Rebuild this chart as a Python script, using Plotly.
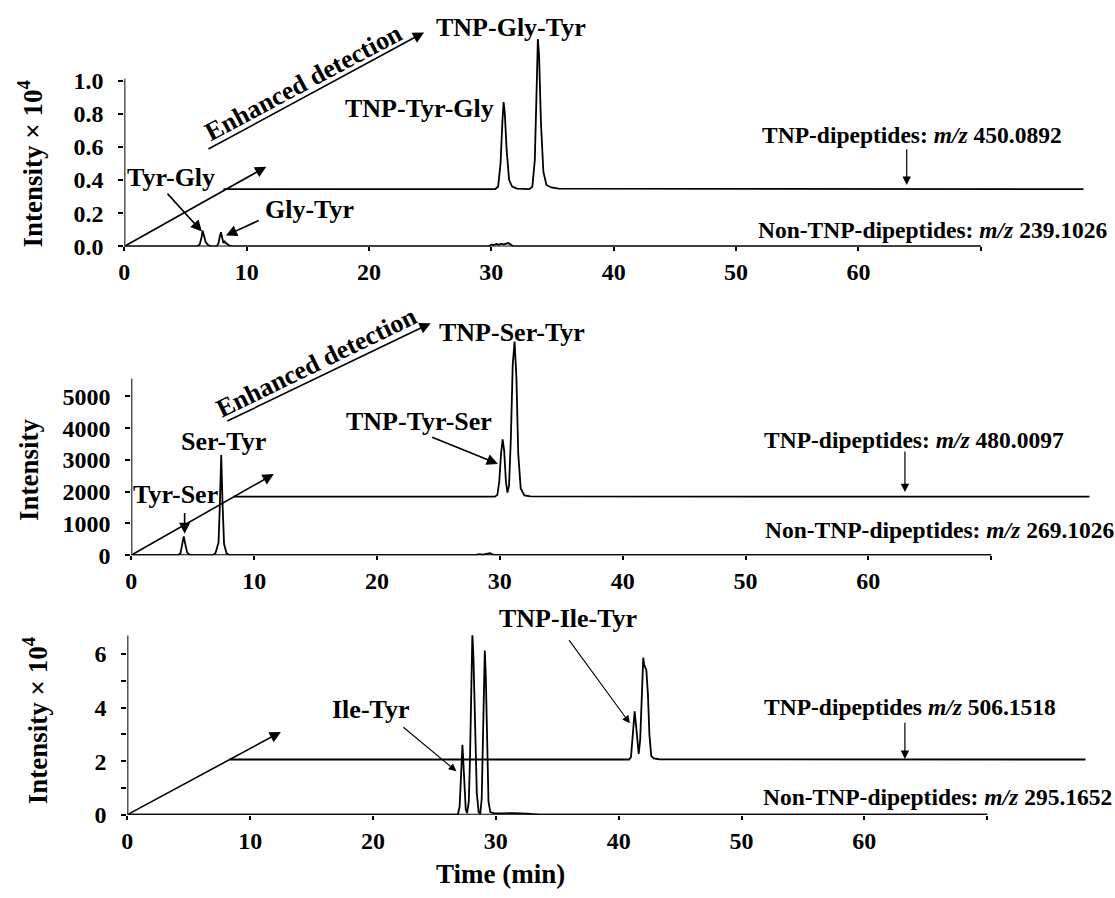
import plotly.graph_objects as go

W, H = 1115, 898
FONT = "Liberation Serif"

# ---------------- data ----------------
# Panel 1 : Tyr-Gly / Gly-Tyr
t1_non = [0, 5.9, 6.15, 6.3, 6.4, 6.5, 6.65, 6.85, 7.1, 7.55, 7.7, 7.8, 7.9, 8.0, 8.1, 8.2, 8.3, 8.5, 8.8,
          29.8, 30.0, 30.2, 30.4, 30.6, 30.8, 31.0, 31.2, 31.4, 31.6, 31.8, 70]
i1_non = [0, 0, 0.01, 0.05, 0.095, 0.07, 0.025, 0.008, 0, 0, 0.02, 0.06, 0.085, 0.05, 0.02, 0.03, 0.02, 0.008, 0,
          0, 0.012, 0.008, 0.015, 0.01, 0.016, 0.012, 0.014, 0.02, 0.01, 0, 0]
t1_tnp = [8.1, 30.3, 30.55, 30.75, 30.9, 31.0, 31.1, 31.25, 31.45, 31.7, 32.1, 33.1, 33.35, 33.55, 33.7, 33.8,
          33.9, 34.05, 34.25, 34.5, 34.9, 35.5, 78.4]
i1_tnp = [0.345, 0.345, 0.36, 0.50, 0.75, 0.87, 0.80, 0.58, 0.40, 0.36, 0.348, 0.345, 0.36, 0.52, 0.95, 1.25,
          1.15, 0.75, 0.45, 0.37, 0.355, 0.348, 0.345]

# Panel 2 : Tyr-Ser / Ser-Tyr
t2_non = [0, 3.8, 4.0, 4.15, 4.27, 4.4, 4.55, 4.8, 6.6, 6.85, 7.0, 7.1, 7.2, 7.32, 7.42, 7.55, 7.75, 8.0,
          28.0, 28.3, 28.6, 28.9, 29.2, 29.4, 29.6, 70]
i2_non = [0, 0, 60, 350, 590, 330, 80, 0, 0, 60, 280, 400, 1500, 3155, 1700, 350, 60, 0,
          0, 30, 15, 40, 60, 25, 0, 0]
t2_tnp = [8.3, 29.6, 29.8, 29.95, 30.1, 30.23, 30.35, 30.5, 30.62, 30.75, 30.9, 31.05, 31.2, 31.35, 31.5,
          31.7, 32.0, 32.5, 78]
i2_tnp = [1842, 1842, 1900, 2300, 3200, 3652, 3300, 2300, 1970, 2200, 3700, 6000, 6727, 5600, 3200,
          2100, 1880, 1850, 1842]

# Panel 3 : Ile-Tyr
t3_non = [0, 26.9, 27.05, 27.15, 27.22, 27.28, 27.35, 27.45, 27.55, 27.66, 27.8, 27.9, 28.0, 28.09, 28.18,
          28.3, 28.45, 28.6, 28.73, 28.85, 28.95, 29.03, 29.1, 29.18, 29.28, 29.4, 29.55, 29.8, 30.5, 31.5,
          32.5, 33.5, 70]
i3_non = [0, 0, 0.3, 1.3, 2.2, 2.61, 2.0, 0.8, 0.2, 0.06, 0.5, 2.2, 5.5, 6.8, 5.8,
          3.0, 0.8, 0.1, 0.03, 0.6, 2.8, 5.4, 6.13, 5.2, 2.6, 0.5, 0.1, 0.06, 0.05, 0.06,
          0.04, 0, 0]
t3_tnp = [8.3, 40.85, 41.0, 41.15, 41.25, 41.3, 41.42, 41.55, 41.63, 41.75, 41.88, 42.0, 42.07, 42.16,
          42.25, 42.38, 42.5, 42.65, 42.85, 43.3, 78]
i3_tnp = [2.06, 2.06, 2.15, 2.9, 3.6, 3.86, 3.3, 2.4, 2.27, 2.8, 4.8, 5.86, 5.6, 5.5,
          5.4, 4.5, 3.0, 2.2, 2.1, 2.07, 2.06]

x_tickvals = [0, 10, 20, 30, 40, 50, 60, 70]
x_ticktext = ["0", "10", "20", "30", "40", "50", "60", ""]
y1_tickvals = [0, 0.2, 0.4, 0.6, 0.8, 1.0]
y1_ticktext = ["0.0", "0.2", "0.4", "0.6", "0.8", "1.0"]
y2_tickvals = [0, 1000, 2000, 3000, 4000, 5000]
y2_ticktext = ["0", "1000", "2000", "3000", "4000", "5000"]
y3_tickvals = [0, 1, 2, 3, 4, 5, 6]
y3_ticktext = ["0", "", "2", "", "4", "", "6"]

# ---------------- figure ----------------
fig = go.Figure()
line = dict(color="black", width=1.8)
for xs, ys, xa, ya in [(t1_non, i1_non, "x", "y"), (t1_tnp, i1_tnp, "x", "y"),
                       (t2_non, i2_non, "x2", "y2"), (t2_tnp, i2_tnp, "x2", "y2"),
                       (t3_non, i3_non, "x3", "y3"), (t3_tnp, i3_tnp, "x3", "y3")]:
    fig.add_trace(go.Scatter(x=xs, y=ys, xaxis=xa, yaxis=ya, mode="lines", line=line,
                             showlegend=False, hoverinfo="skip"))

tickfont = dict(family=FONT, size=24, color="black", weight="bold")


def xax(left_px, px_per_min, anchor):
    return dict(domain=[left_px / W, (left_px + 79 * px_per_min) / W], range=[0, 79], anchor=anchor,
                tickvals=x_tickvals, ticktext=x_ticktext, ticks="outside", ticklen=4, tickwidth=1.5,
                tickcolor="black", showline=False, showgrid=False, zeroline=False, tickfont=tickfont)


def yax(bottom_px, top_px, rng, tv, tt, anchor):
    return dict(domain=[1 - bottom_px / H, 1 - top_px / H], range=rng, anchor=anchor,
                tickvals=tv, ticktext=tt, ticks="outside", ticklen=5, tickwidth=1.5,
                tickcolor="black", showline=False, showgrid=False, zeroline=False, tickfont=tickfont,
                ticklabelstandoff=10)


fig.update_layout(
    width=W, height=H, margin=dict(l=0, r=0, t=0, b=0),
    paper_bgcolor="white", plot_bgcolor="white", showlegend=False,
    xaxis=xax(119, 12.3, "y"),
    yaxis=yax(250, 31.2, [0, 1.3], y1_tickvals, y1_ticktext, "x"),
    xaxis2=xax(126, 12.35, "y2"),
    yaxis2=yax(563.3, 337.9, [0, 7000], y2_tickvals, y2_ticktext, "x2"),
    xaxis3=xax(122, 12.35, "y3"),
    yaxis3=yax(826.7, 644.5, [0, 6.7], y3_tickvals, y3_ticktext, "x3"),
)

# axis lines (partial extents as in the original)
shapes = []
for xr, yr, ytop in [("x", "y", 1.01), ("x2", "y2", 5570), ("x3", "y3", 6.7)]:
    shapes.append(dict(type="line", xref=xr, yref=yr, x0=0, x1=70, y0=0, y1=0,
                       line=dict(color="black", width=2)))
    shapes.append(dict(type="line", xref=xr, yref=yr, x0=0, x1=0, y0=0, y1=ytop,
                       line=dict(color="black", width=2)))
fig.update_layout(shapes=shapes)

ann = []


def label(text, px, py, size=26, angle=0):
    ann.append(dict(text=text, x=px / W, y=1 - py / H, xref="paper", yref="paper", showarrow=False,
                    font=dict(family=FONT, size=size, color="black", weight="bold"),
                    textangle=angle, xanchor="center", yanchor="middle"))


def arrow(xr, yr, tx, ty, hx, hy, width=1.6):
    ann.append(dict(text="", x=hx, y=hy, xref=xr, yref=yr, ax=tx, ay=ty, axref=xr, ayref=yr,
                    showarrow=True, arrowhead=2, arrowsize=1.4, arrowwidth=width,
                    arrowcolor="black", standoff=0))


# Panel 1
label("TNP-Gly-Tyr", 508, 28)
label("TNP-Tyr-Gly", 416, 110)
label("Enhanced detection", 299, 84, angle=-28)
label("Tyr-Gly", 166, 180)
label("Gly-Tyr", 305, 213)
label("TNP-dipeptides: <i>m/z</i> 450.0892", 911, 137, size=23.5)
label("Non-TNP-dipeptides: <i>m/z</i> 239.1026", 932, 233, size=23.5)
label("Intensity × 10<sup>4</sup>", 24, 166, size=27, angle=-90)
arrow("x", "y", 0, 0, 11.6, 0.48)
arrow("x", "y", 6.75, 0.582, 24.5, 1.29)
arrow("x", "y", 3.41, 0.327, 6.34, 0.089)
arrow("x", "y", 11.1, 0.16, 8.3, 0.065)
arrow("x", "y", 63.95, 0.594, 63.95, 0.37, width=1.2)

# Panel 2
label("TNP-Ser-Tyr", 509, 337)
label("Enhanced detection", 312, 368, angle=-26)
label("TNP-Tyr-Ser", 415, 428)
label("Ser-Tyr", 219, 448)
label("Tyr-Ser", 170, 502)
label("TNP-dipeptides: <i>m/z</i> 480.0097", 913, 446, size=23.5)
label("Non-TNP-dipeptides: <i>m/z</i> 269.1026", 939, 538, size=23.5)
label("Intensity", 23, 476, size=27, angle=-90)
arrow("x2", "y2", 0, 0, 11.6, 2556)
arrow("x2", "y2", 7.69, 4202, 24.37, 7307)
arrow("x2", "y2", 24.37, 3736, 29.85, 2876)
arrow("x2", "y2", 4.34, 1376, 4.34, 671)
arrow("x2", "y2", 62.98, 3311, 62.98, 1988, width=1.2)

# Panel 3
label("TNP-Ile-Tyr", 565, 628)
label("Ile-Tyr", 367, 720)
label("TNP-dipeptides <i>m/z</i> 506.1518", 909, 717, size=23.5)
label("Non-TNP-dipeptides: <i>m/z</i> 295.1652", 937, 809, size=23.5)
label("Intensity × 10<sup>4</sup>", 30, 731, size=27, angle=-90)
label("Time (min)", 497, 887, size=27)
arrow("x3", "y3", 0, 0, 12.5, 3.09)
arrow("x3", "y3", 35.87, 6.57, 40.91, 3.41, width=1.1)
arrow("x3", "y3", 22.35, 3.31, 26.79, 1.62, width=1.1)
arrow("x3", "y3", 63.3, 3.49, 63.3, 2.08, width=1.2)

fig.update_layout(annotations=ann)
fig.write_html("out.html")
